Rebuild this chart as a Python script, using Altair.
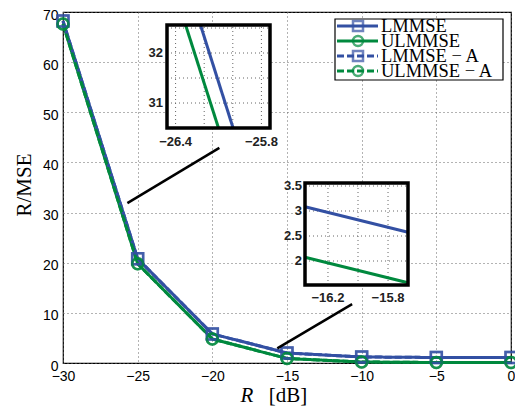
import altair as alt
import pandas as pd

W, H = 448, 351

# ---- main data ----
snr = [-30, -25, -20, -15, -10, -5, 0]
lmmse = [68.2, 20.8, 5.8, 2.0, 1.2, 1.1, 1.1]
ulmmse = [67.6, 19.8, 4.8, 0.9, 0.2, 0.1, 0.1]
lmmse_a = [68.2, 20.8, 5.8, 2.0, 1.2, 1.1, 1.1]
ulmmse_a = [67.6, 19.8, 4.8, 0.9, 0.2, 0.1, 0.1]

series_names = ["LMMSE", "ULMMSE", "LMMSE − A", "ULMMSE − A"]
series_colors = ["#3350a3", "#00893e", "#3350a3", "#00893e"]
series_dash = [[1, 0], [1, 0], [7, 3], [7, 3]]
series_shape = ["square", "circle", "square", "circle"]

x_ticks = [-30, -25, -20, -15, -10, -5, 0]
y_ticks = [0, 10, 20, 30, 40, 50, 60, 70]

# connector lines (data coords)
conn_x = [-25.69, -15.65]
conn_y = [31.87, 2.92]
conn_x2 = [-19.53, -10.64]
conn_y2 = [42.89, 11.73]

# inset 1
in1_xdom = [-26.46, -25.74]
in1_ydom = [30.5, 32.56]
in1_blue_x = [-26.226, -25.998]
in1_blue_y = [32.56, 30.5]
in1_green_x = [-26.33, -26.10]
in1_green_y = [32.56, 30.5]
in1_grid_x = [-26.4, -26.2, -26.0, -25.8]
in1_grid_y = [31, 31.5, 32, 32.5]
in1_xlab = [-26.4, -25.8]
in1_xlab_txt = ["−26.4", "−25.8"]
in1_ylab = [31, 32]
in1_ylab_txt = ["31", "32"]

# inset 2
in2_xdom = [-16.353, -15.667]
in2_ydom = [1.52, 3.56]
in2_blue_x = [-16.353, -15.667]
in2_blue_y = [3.086, 2.574]
in2_green_x = [-16.353, -15.667]
in2_green_y = [2.074, 1.566]
in2_grid_x = [-16.2, -16.0, -15.8]
in2_grid_y = [2, 2.5, 3, 3.5]
in2_xlab = [-16.2, -15.8]
in2_xlab_txt = ["−16.2", "−15.8"]
in2_ylab = [2, 2.5, 3, 3.5]
in2_ylab_txt = ["2", "2.5", "3", "3.5"]

# ---- scales ----
cscale = alt.Scale(domain=series_names, range=series_colors)
dscale = alt.Scale(domain=series_names, range=series_dash)
sscale = alt.Scale(domain=series_names, range=series_shape)

xs = alt.Scale(domain=[-30, 0], nice=False, zero=False)
ys = alt.Scale(domain=[0, 70], nice=False, zero=False)

rows = []
for name, vals in zip(series_names, [lmmse, ulmmse, lmmse_a, ulmmse_a]):
    for xv, yv in zip(snr, vals):
        rows.append({"x": xv, "y": yv, "s": name})
df = pd.DataFrame(rows)

gridcol = "#666666"
axis_x = alt.Axis(values=x_ticks, title=None, grid=True, gridDash=[1, 3], gridColor=gridcol,
                  gridOpacity=1, ticks=False, domain=False, labelFont="Liberation Sans",
                  labelFontSize=14, labelColor="black", labelPadding=6, labelFlush=False)
axis_y = alt.Axis(values=y_ticks, title=None, grid=True, gridDash=[1, 3], gridColor=gridcol,
                  gridOpacity=1, ticks=False, domain=False, labelFont="Liberation Sans",
                  labelFontSize=14, labelColor="black", labelPadding=5, labelOffset=3,
                  labelFlush=False)

base = alt.Chart(df)
lines = base.mark_line(strokeWidth=3).encode(
    x=alt.X("x:Q", scale=xs, axis=axis_x),
    y=alt.Y("y:Q", scale=ys, axis=axis_y),
    color=alt.Color("s:N", scale=cscale, legend=None),
    strokeDash=alt.StrokeDash("s:N", scale=dscale, legend=None),
    detail="s:N",
)
pts = base.mark_point(filled=False, strokeWidth=2.5, size=120).encode(
    x=alt.X("x:Q", scale=xs, axis=axis_x),
    y=alt.Y("y:Q", scale=ys, axis=axis_y),
    color=alt.Color("s:N", scale=cscale, legend=None),
    shape=alt.Shape("s:N", scale=sscale, legend=None),
)
conn_df = pd.DataFrame({"x": conn_x, "y": conn_y, "x2": conn_x2, "y2": conn_y2})
conn = alt.Chart(conn_df).mark_rule(color="black", strokeWidth=2.5).encode(
    x=alt.X("x:Q", scale=xs, axis=axis_x), y=alt.Y("y:Q", scale=ys, axis=axis_y),
    x2="x2:Q", y2="y2:Q",
)
main = alt.layer(lines, pts, conn)


def inset(xdom, ydom, xr, yr, bx, by, gx_, grx, gry, xl, xlt, yl, ylt, xlab_y, ylab_x):
    sx = alt.Scale(domain=xdom, range=xr, nice=False, zero=False)
    sy = alt.Scale(domain=ydom, range=yr, nice=False, zero=False)
    fdf = pd.DataFrame({"x0": [xdom[0]], "x1": [xdom[1]], "y0": [ydom[0]], "y1": [ydom[1]]})
    bg = alt.Chart(fdf).mark_rect(fill="white").encode(
        x=alt.X("x0:Q", scale=sx, axis=None), x2="x1:Q",
        y=alt.Y("y0:Q", scale=sy, axis=None), y2="y1:Q")
    vg = alt.Chart(pd.DataFrame({"g": grx, "a": [ydom[0]] * len(grx), "b": [ydom[1]] * len(grx)})).mark_rule(
        color=gridcol, strokeDash=[1, 3], strokeWidth=1).encode(
        x=alt.X("g:Q", scale=sx, axis=None), y=alt.Y("a:Q", scale=sy, axis=None), y2="b:Q")
    hg = alt.Chart(pd.DataFrame({"g": gry, "a": [xdom[0]] * len(gry), "b": [xdom[1]] * len(gry)})).mark_rule(
        color=gridcol, strokeDash=[1, 3], strokeWidth=1).encode(
        y=alt.Y("g:Q", scale=sy, axis=None), x=alt.X("a:Q", scale=sx, axis=None), x2="b:Q")
    ldf = pd.DataFrame({"x": bx + gx_[0], "y": by + gx_[1],
                        "s": [series_names[0]] * len(bx) + [series_names[1]] * len(gx_[0])})
    ln = alt.Chart(ldf).mark_line(strokeWidth=3).encode(
        x=alt.X("x:Q", scale=sx, axis=None), y=alt.Y("y:Q", scale=sy, axis=None),
        color=alt.Color("s:N", scale=cscale, legend=None), detail="s:N")
    fr = alt.Chart(fdf).mark_rect(fillOpacity=0, stroke="black", strokeWidth=3.5).encode(
        x=alt.X("x0:Q", scale=sx, axis=None), x2="x1:Q",
        y=alt.Y("y0:Q", scale=sy, axis=None), y2="y1:Q")
    xt = alt.Chart(pd.DataFrame({"v": xl, "t": xlt})).mark_text(
        font="Liberation Sans", fontWeight="bold", fontSize=13, color="#222222", baseline="middle").encode(
        x=alt.X("v:Q", scale=sx, axis=None), y=alt.value(xlab_y), text="t:N")
    yt = alt.Chart(pd.DataFrame({"v": yl, "t": ylt})).mark_text(
        font="Liberation Sans", fontWeight="bold", fontSize=13, color="#222222", baseline="middle",
        align="right").encode(
        y=alt.Y("v:Q", scale=sy, axis=None), x=alt.value(ylab_x), text="t:N")
    return alt.layer(bg, vg, hg, ln, fr, xt, yt)


inset1 = inset(in1_xdom, in1_ydom, [104, 207], [116, 13], in1_blue_x, in1_blue_y,
               (in1_green_x, in1_green_y), in1_grid_x, in1_grid_y,
               in1_xlab, in1_xlab_txt, in1_ylab, in1_ylab_txt, 130, 100)
inset2 = inset(in2_xdom, in2_ydom, [242, 345], [273, 171], in2_blue_x, in2_blue_y,
               (in2_green_x, in2_green_y), in2_grid_x, in2_grid_y,
               in2_xlab, in2_xlab_txt, in2_ylab, in2_ylab_txt, 286, 239)

# ---- legend ----
leg_df = pd.DataFrame({"s": series_names, "row": [0, 1, 2, 3]})
legy = alt.Scale(domain=[0, 3], range=[14, 59], nice=False, zero=False)
leg_box = alt.Chart(pd.DataFrame({"a": [0]})).mark_rect(fill="white", stroke="black", strokeWidth=1.2).encode(
    x=alt.value(272), x2=alt.value(440), y=alt.value(7), y2=alt.value(68))
leg_line = alt.Chart(leg_df).mark_rule(strokeWidth=3).encode(
    x=alt.value(274), x2=alt.value(315), y=alt.Y("row:Q", scale=legy, axis=None),
    color=alt.Color("s:N", scale=cscale, legend=None),
    strokeDash=alt.StrokeDash("s:N", scale=dscale, legend=None))
leg_pt = alt.Chart(leg_df).mark_point(filled=False, strokeWidth=2.5, size=100).encode(
    x=alt.value(295), y=alt.Y("row:Q", scale=legy, axis=None),
    color=alt.Color("s:N", scale=cscale, legend=None),
    shape=alt.Shape("s:N", scale=sscale, legend=None))
leg_txt = alt.Chart(leg_df).mark_text(align="left", baseline="middle", font="Liberation Serif",
                                      fontSize=18.5, color="black").encode(
    x=alt.value(318), y=alt.Y("row:Q", scale=legy, axis=None), text="s:N")
legend = alt.layer(leg_box, leg_line, leg_pt, leg_txt)

# ---- titles ----
one = pd.DataFrame({"a": [0]})
ytitle = alt.Chart(one).mark_text(text="R/MSE", angle=270, font="Liberation Serif", fontSize=21,
                                  color="black", baseline="middle", align="center").encode(
    x=alt.value(-38), y=alt.value(173))
xt_r = alt.Chart(one).mark_text(text="R", font="Liberation Serif", fontStyle="italic", fontSize=21,
                                color="black", baseline="middle", align="center").encode(
    x=alt.value(184), y=alt.value(384))
xt_db = alt.Chart(one).mark_text(text="[dB]", font="Liberation Serif", fontSize=21,
                                 color="black", baseline="middle", align="center").encode(
    x=alt.value(225), y=alt.value(384))

chart = alt.layer(main, inset1, inset2, legend, ytitle, xt_r, xt_db).resolve_scale(
    x="independent", y="independent"
).properties(
    width=W, height=H,
    padding={"left": 55, "top": 4, "right": 4, "bottom": 48},
    autosize=alt.AutoSizeParams(type="none"),
).configure_view(stroke="black", strokeWidth=1.2)

chart.save("out.html", embed_options={"renderer": "svg", "actions": False})
